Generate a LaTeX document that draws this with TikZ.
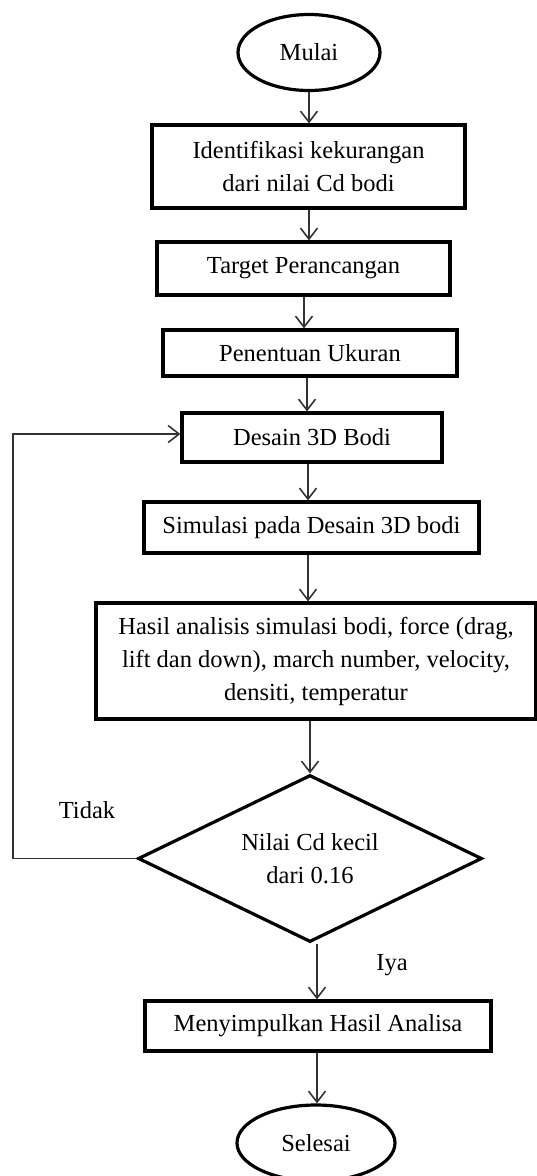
\documentclass[tikz,border=0pt]{standalone}
\usepackage{fontspec}
\setmainfont{Liberation Serif}
\usetikzlibrary{arrows.meta,shapes.geometric}
\begin{document}
\begin{tikzpicture}[x=1pt,y=-1pt,
  font=\fontsize{24.5}{33}\selectfont,
  box/.style={draw=black,line width=3.2pt,rectangle,inner sep=0pt,align=center},
  term/.style={draw=black,line width=3.2pt,ellipse,inner sep=0pt,align=center},
  dec/.style={draw=black,line width=3.2pt,diamond,aspect=2,inner sep=0pt,align=center},
  arr/.style={draw=black!80,line width=1.6pt,-{Straight Barb[length=11pt,width=17pt]}},
  lbl/.style={inner sep=0pt}]
\useasboundingbox (0,0) rectangle (536,1176);
\node[term,minimum width=142pt,minimum height=76pt] (mulai) at (309,52.5) {Mulai};
\node[box,minimum width=313pt,minimum height=83pt] (b1) at (308.5,166.5) {Identifikasi kekurangan\\dari nilai Cd bodi};
\node[box,minimum width=293pt,minimum height=53pt] (b2) at (303.5,268.5) {Target Perancangan};
\node[box,minimum width=294pt,minimum height=46pt] (b3) at (310,353) {Penentuan Ukuran};
\node[box,minimum width=260pt,minimum height=49pt] (b4) at (312,437.5) {Desain 3D Bodi};
\node[box,minimum width=335pt,minimum height=51pt] (b5) at (311.5,527.5) {Simulasi pada Desain 3D bodi};
\node[box,minimum width=440pt,minimum height=116pt] (b6) at (316,661) {Hasil analisis simulasi bodi, force (drag,\\lift dan down), march number, velocity,\\densiti, temperatur};
\node[dec,minimum width=344pt,minimum height=167pt] (d) at (310,858.5) {Nilai Cd kecil\\dari 0.16};
\node[box,minimum width=346pt,minimum height=50pt] (b7) at (318,1026) {Menyimpulkan Hasil Analisa};
\node[term,minimum width=158pt,minimum height=76pt] (selesai) at (316,1143) {Selesai};
\node[lbl] (tidak) at (87,810) {Tidak};
\node[lbl] (iya) at (392,965) {Iya};
\coordinate (lx) at (13,0);
\draw[arr] (mulai.south) -- (mulai.south |- b1.north);
\draw[arr] (b1.south -| 309,0) -- (309,0 |- b2.north);
\draw[arr] (b2.south -| 304,0) -- (304,0 |- b3.north);
\draw[arr] (b3.south -| 307,0) -- (307,0 |- b4.north);
\draw[arr] (b4.south -| 308,0) -- (308,0 |- b5.north);
\draw[arr] (b5.south -| 308,0) -- (308,0 |- b6.north);
\draw[arr] (b6.south -| 310,0) -- (d.north);
\draw[arr] (d.south -| 317,0) -- (317,0 |- b7.north);
\draw[arr] (b7.south -| 317,0) -- (317,0 |- selesai.north);
\draw[arr] (d.west) -- (d.west -| lx) -- (lx |- 0,434) -- (b4.west |- 0,434);
\end{tikzpicture}
\end{document}
